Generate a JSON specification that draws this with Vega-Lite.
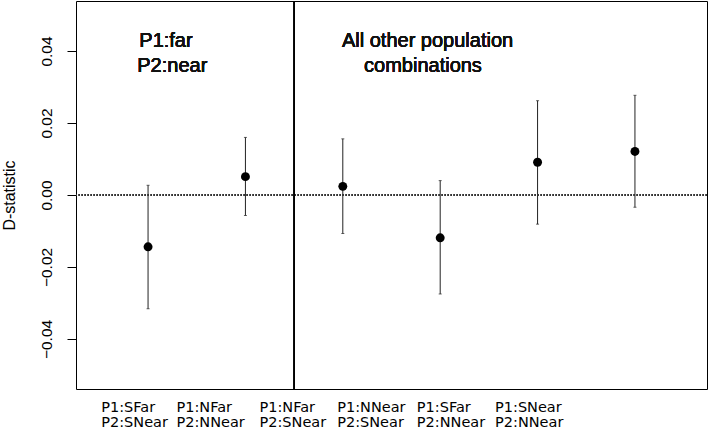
{
  "$schema": "https://vega.github.io/schema/vega-lite/v6.json",
  "autosize": {"type": "none"},
  "width": 631,
  "height": 388,
  "padding": {"left": 76, "top": 1, "right": 2, "bottom": 42},
  "background": "white",
  "config": {
    "view": {"stroke": "black", "strokeWidth": 1},
    "font": "Liberation Sans"
  },
  "data": {
    "values": [
      {"pair": "P1:SFar P2:SNear", "pos": 1, "d": -0.0144, "lo": -0.0316, "hi": 0.0027},
      {"pair": "P1:NFar P2:NNear", "pos": 2, "d": 0.0051, "lo": -0.0057, "hi": 0.0160},
      {"pair": "P1:NFar P2:SNear", "pos": 3, "d": 0.0024, "lo": -0.0107, "hi": 0.0156},
      {"pair": "P1:NNear P2:SNear", "pos": 4, "d": -0.0119, "lo": -0.0275, "hi": 0.0040},
      {"pair": "P1:SFar P2:NNear", "pos": 5, "d": 0.0091, "lo": -0.0081, "hi": 0.0262},
      {"pair": "P1:SNear P2:NNear", "pos": 6, "d": 0.0121, "lo": -0.0034, "hi": 0.0277}
    ]
  },
  "layer": [
    {
      "mark": {"type": "rule", "color": "#222", "strokeWidth": 1},
      "encoding": {
        "x": {
          "field": "pos", "type": "quantitative",
          "scale": {"domain": [0.26, 6.74], "nice": false, "zero": false},
          "axis": {
            "values": [0.514, 1.287, 2.139, 2.937, 3.755, 4.558],
            "labelExpr": "datum.value < 1 ? ['P1:SFar','P2:SNear'] : datum.value < 2 ? ['P1:NFar','P2:NNear'] : datum.value < 2.5 ? ['P1:NFar','P2:SNear'] : datum.value < 3.5 ? ['P1:NNear','P2:SNear'] : datum.value < 4 ? ['P1:SFar','P2:NNear'] : ['P1:SNear','P2:NNear']",
            "labelAlign": "left",
            "labelBaseline": "top",
            "labelFont": "DejaVu Sans",
            "labelFontSize": 14.5,
            "labelLineHeight": 15.5,
            "labelColor": "black",
            "labelPadding": 11,
            "labelOverlap": false,
            "labelFlush": false,
            "ticks": false,
            "domain": false,
            "grid": false,
            "title": null
          }
        },
        "y": {
          "field": "lo", "type": "quantitative",
          "scale": {"domain": [-0.0539, 0.0539], "nice": false, "zero": false},
          "axis": {
            "values": [-0.04, -0.02, 0, 0.02, 0.04],
            "format": ".2f",
            "labelAngle": 270,
            "labelAlign": "center",
            "labelBaseline": "bottom",
            "labelFont": "Liberation Sans",
            "labelFontSize": 15.5,
            "labelColor": "black",
            "labelPadding": 13,
            "tickSize": 9,
            "tickColor": "black",
            "domain": false,
            "grid": false,
            "title": "D-statistic",
            "titleFont": "Liberation Sans",
            "titleFontSize": 16,
            "titleFontWeight": "normal",
            "titleColor": "black",
            "titlePadding": 22
          }
        },
        "y2": {"field": "hi"}
      }
    },
    {
      "mark": {"type": "tick", "orient": "horizontal", "color": "#222", "size": 3, "thickness": 1},
      "encoding": {
        "x": {"field": "pos", "type": "quantitative"},
        "y": {"field": "lo", "type": "quantitative"}
      }
    },
    {
      "mark": {"type": "tick", "orient": "horizontal", "color": "#222", "size": 3, "thickness": 1},
      "encoding": {
        "x": {"field": "pos", "type": "quantitative"},
        "y": {"field": "hi", "type": "quantitative"}
      }
    },
    {
      "mark": {"type": "circle", "color": "black", "opacity": 1, "size": 80},
      "encoding": {
        "x": {"field": "pos", "type": "quantitative"},
        "y": {"field": "d", "type": "quantitative"}
      }
    },
    {
      "mark": {"type": "rule", "color": "#333", "strokeWidth": 1, "strokeDash": [1.5, 1.5]},
      "encoding": {"y": {"datum": 0}}
    },
    {
      "mark": {"type": "rule", "color": "black", "strokeWidth": 1},
      "encoding": {"x": {"datum": 2.5}}
    },
    {
      "mark": {"type": "text", "align": "left", "baseline": "alphabetic", "font": "Liberation Sans", "fontWeight": 400, "fontSize": 20, "color": "#111"},
      "encoding": {"x": {"datum": 0.91}, "y": {"datum": 0.0412}, "text": {"value": "P1:far"}}
    },
    {
      "mark": {"type": "text", "align": "left", "baseline": "alphabetic", "font": "Liberation Sans", "fontWeight": 400, "fontSize": 20, "color": "#111"},
      "encoding": {"x": {"datum": 0.889}, "y": {"datum": 0.0342}, "text": {"value": "P2:near"}}
    },
    {
      "mark": {"type": "text", "align": "center", "baseline": "alphabetic", "font": "Liberation Sans", "fontWeight": 400, "fontSize": 20, "color": "#111"},
      "encoding": {"x": {"datum": 3.87}, "y": {"datum": 0.0412}, "text": {"value": "All other population"}}
    },
    {
      "mark": {"type": "text", "align": "center", "baseline": "alphabetic", "font": "Liberation Sans", "fontWeight": 400, "fontSize": 20, "color": "#111"},
      "encoding": {"x": {"datum": 3.823}, "y": {"datum": 0.0342}, "text": {"value": "combinations"}}
    }
  ]
}
